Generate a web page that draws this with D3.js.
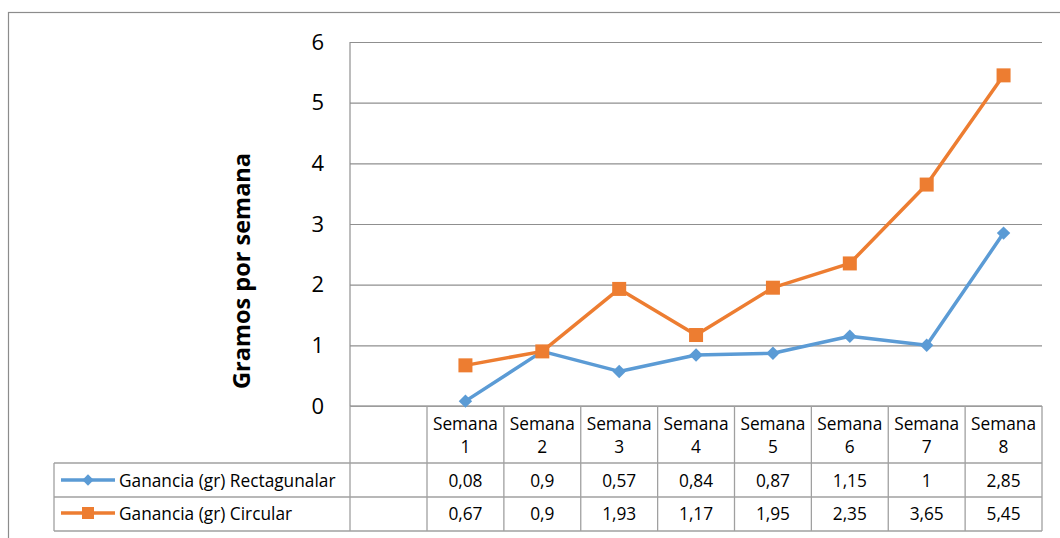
<!DOCTYPE html>
<html><head><meta charset="utf-8">
<script src="https://cdn.jsdelivr.net/npm/d3@7"></script>
<style>
html,body{margin:0;padding:0;background:#fff;}
svg{display:block;font-family:"Open Sans",sans-serif;}
</style></head>
<body>
<svg id="c" width="1060" height="538"></svg>
<script>
const categories = ["Semana 1","Semana 2","Semana 3","Semana 4","Semana 5","Semana 6","Semana 7","Semana 8"];
const seriesNames = ["Ganancia (gr) Rectagunalar","Ganancia (gr) Circular"];
const rectValues = [0.08,0.9,0.57,0.84,0.87,1.15,1,2.85];
const circValues = [0.67,0.9,1.93,1.17,1.95,2.35,3.65,5.45];
const yTicks = [0,1,2,3,4,5,6];
const colors = ["#5B9BD5","#ED7D31"];

const svg = d3.select("#c");
const fmt = v => String(v).replace(".", ",");
const FS = 17.3;

// outer chart border
svg.append("rect").attr("x",8.5).attr("y",12.5).attr("width",1200).attr("height",600)
  .attr("fill","none").attr("stroke","#8c8c8c").attr("stroke-width",1.2);

const x = d3.scaleBand().domain(categories).range([427,1042]).padding(0);
const y = d3.scaleLinear().domain([0,6]).range([406,42]);

// gridlines
const grid = d3.axisLeft(y).tickValues(yTicks).tickSize(-(1042-350)).tickFormat("");
const gg = svg.append("g").attr("transform","translate(350,0)").call(grid);
gg.select(".domain").remove();
gg.selectAll(".tick line").attr("stroke","#8f8f8f").attr("stroke-width",1.2);

// y-axis labels
const ya = d3.axisLeft(y).tickValues(yTicks).tickSize(0).tickPadding(26).tickFormat(d=>d);
const yg = svg.append("g").attr("transform","translate(350,0)").call(ya);
yg.select(".domain").remove();
yg.selectAll("text").attr("font-size",22).attr("font-family","'Open Sans',sans-serif").attr("fill","#000");

// axis title
svg.append("text").attr("transform","translate(250,271) rotate(-90)")
  .attr("text-anchor","middle").attr("font-weight","bold").attr("font-size",23.5)
  .text("Gramos por semana");

// data table lines
const tcol = "#a0a0a0";
const lines = [];
lines.push([350,406,350,531]);
lines.push([350,406,1042,406]);
const bounds = categories.map(c=>x(c)).concat([x(categories[7])+x.bandwidth()]);
bounds.forEach(b=>lines.push([b,406,b,531]));
lines.push([54,463,1042,463]);
lines.push([54,497,1042,497]);
lines.push([54,531,1042,531]);
lines.push([54,463,54,531]);
svg.append("g").selectAll("line").data(lines).join("line")
  .attr("x1",d=>d[0]).attr("y1",d=>d[1]).attr("x2",d=>d[2]).attr("y2",d=>d[3])
  .attr("stroke",tcol).attr("stroke-width",1.3);
svg.append("line").attr("x1",350).attr("x2",350).attr("y1",42).attr("y2",406).attr("stroke","#8f8f8f").attr("stroke-width",1.2);

// header labels
const hdr = svg.append("g").selectAll("text").data(categories).join("text")
  .attr("text-anchor","middle").attr("font-size",FS).attr("fill","#000");
hdr.append("tspan").attr("x",d=>x(d)+x.bandwidth()/2).attr("y",430).text(d=>d.split(" ")[0]);
hdr.append("tspan").attr("x",d=>x(d)+x.bandwidth()/2).attr("y",453).text(d=>d.split(" ")[1]);

const diamond = (g, cx, cy, s) => g.append("rect").attr("x",-s/2).attr("y",-s/2).attr("width",s).attr("height",s)
  .attr("transform",`translate(${cx},${cy}) rotate(45)`).attr("fill",colors[0]);

// values + legend
const allVals = [rectValues, circValues];
const rowBase = [487,520];
allVals.forEach((vals,si)=>{
  svg.append("g").selectAll("text").data(vals).join("text")
    .attr("x",(d,i)=>x(categories[i])+x.bandwidth()/2).attr("y",rowBase[si])
    .attr("text-anchor","middle").attr("font-size",FS).attr("fill","#000")
    .text(d=>fmt(d));
  const ly = rowBase[si]-7;
  svg.append("line").attr("x1",61).attr("x2",115).attr("y1",ly).attr("y2",ly)
    .attr("stroke",colors[si]).attr("stroke-width",3.5);
  if(si===0){
    diamond(svg, 88, ly, 8);
  } else {
    svg.append("rect").attr("x",88-6).attr("y",ly-6).attr("width",12).attr("height",12).attr("fill",colors[si]);
  }
  svg.append("text").attr("x",119).attr("y",rowBase[si]).attr("font-size",FS).attr("fill","#000").text(seriesNames[si]);
});

// series lines and markers
const line = d3.line().x((d,i)=>x(categories[i])+x.bandwidth()/2).y(d=>y(d));
svg.append("path").datum(rectValues).attr("d",line).attr("fill","none").attr("stroke",colors[0]).attr("stroke-width",3.5).attr("stroke-linejoin","round");
svg.append("path").datum(circValues).attr("d",line).attr("fill","none").attr("stroke",colors[1]).attr("stroke-width",3.5).attr("stroke-linejoin","round");
const mg = svg.append("g");
rectValues.forEach((d,i)=>diamond(mg, x(categories[i])+x.bandwidth()/2, y(d), 9.5));
svg.append("g").selectAll("rect").data(circValues).join("rect")
  .attr("x",(d,i)=>x(categories[i])+x.bandwidth()/2-7).attr("y",d=>y(d)-7)
  .attr("width",14).attr("height",14).attr("fill",colors[1]);
</script>
</body></html>
